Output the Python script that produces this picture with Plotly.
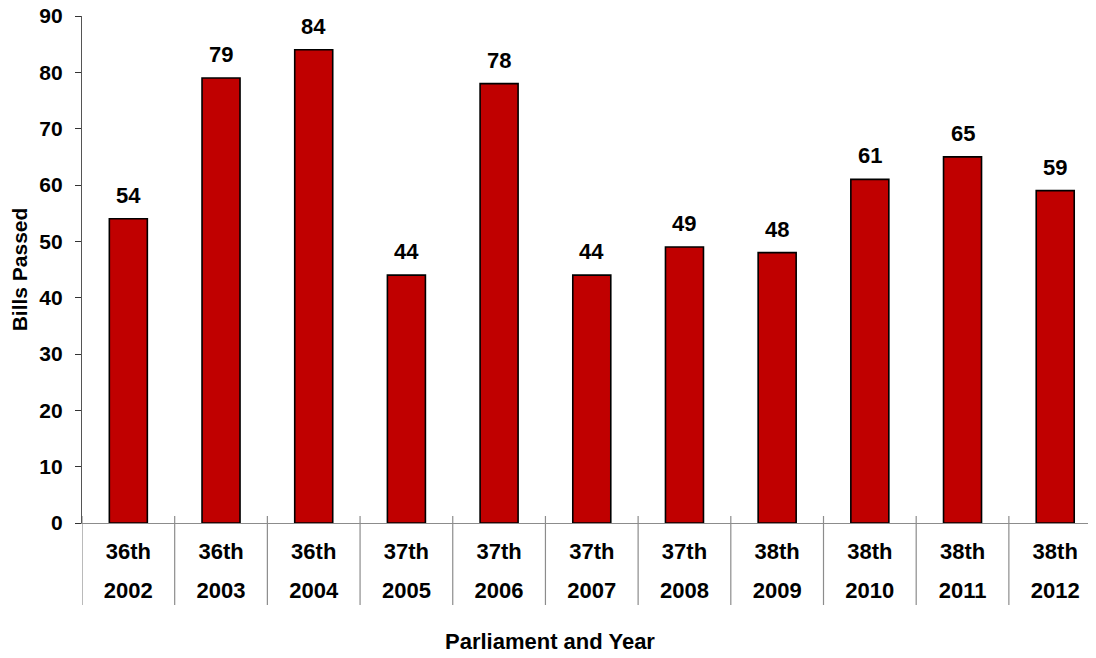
import plotly.graph_objects as go

parliaments = ["36th", "36th", "36th", "37th", "37th", "37th", "37th", "38th", "38th", "38th", "38th"]
years = ["2002", "2003", "2004", "2005", "2006", "2007", "2008", "2009", "2010", "2011", "2012"]
bills = [54, 79, 84, 44, 78, 44, 49, 48, 61, 65, 59]

idx = list(range(len(bills)))
FONT = "Arial, Liberation Sans, sans-serif"
fnt = dict(family=FONT, size=22, color="black", weight="bold")
fnt_y = dict(family=FONT, size=21, color="black", weight="bold")

fig = go.Figure()
fig.add_trace(go.Bar(
    x=idx, y=bills, width=0.41,
    marker=dict(color="#C00000", line=dict(color="black", width=1.6)),
    hoverinfo="skip", showlegend=False,
))
# helper trace to activate the second (year) axis
fig.add_trace(go.Scatter(x=idx, y=bills, mode="none", xaxis="x2",
                         hoverinfo="skip", showlegend=False))

xrange = [-0.5, 10.44]
fig.update_layout(
    width=1088, height=650,
    margin=dict(l=74, r=0, t=8, b=135),
    paper_bgcolor="white", plot_bgcolor="white",
    font=fnt,
    xaxis=dict(
        range=xrange, tickmode="array", tickvals=idx, ticktext=parliaments,
        showgrid=False, zeroline=False, showline=True, linecolor="#8c8c8c", linewidth=1.2,
        ticks="", ticklabelstandoff=8, tickfont=fnt, automargin=False,
    ),
    xaxis2=dict(
        range=xrange, overlaying="x", anchor="y", side="bottom",
        tickmode="array", tickvals=idx, ticktext=years,
        showgrid=False, zeroline=False, showline=False,
        ticks="", ticklabelstandoff=52, tickfont=fnt, automargin=False,
    ),
    yaxis=dict(
        range=[0, 90], dtick=10, tick0=0,
        showgrid=False, zeroline=False, showline=True, linecolor="#555555", linewidth=1.2,
        ticks="outside", ticklen=6, tickcolor="#333333", tickwidth=1.2,
        ticklabelstandoff=8, tickfont=fnt_y, ticklabeloverflow="allow",
        title=dict(text="Bills Passed", font=fnt_y, standoff=12),
        automargin=False,
    ),
)

# value labels
for i, v in zip(idx, bills):
    fig.add_annotation(x=i, y=v, xref="x", yref="y", text=str(v), showarrow=False,
                       yanchor="bottom", yshift=9, font=fnt)

# category separators
for i in range(len(bills)):
    fig.add_shape(type="line", xref="x", yref="paper", x0=i - 0.5, x1=i - 0.5,
                  ysizemode="pixel", yanchor=0, y0=7, y1=-82,
                  line=dict(color="#8c8c8c", width=1.2))

fig.add_annotation(text="Parliament and Year", xref="paper", yref="paper",
                   x=(550 - 82) / 1014, y=-(641 - 523) / 507, xanchor="center", yanchor="middle",
                   showarrow=False, font=fnt)

fig.write_html("out.html")
